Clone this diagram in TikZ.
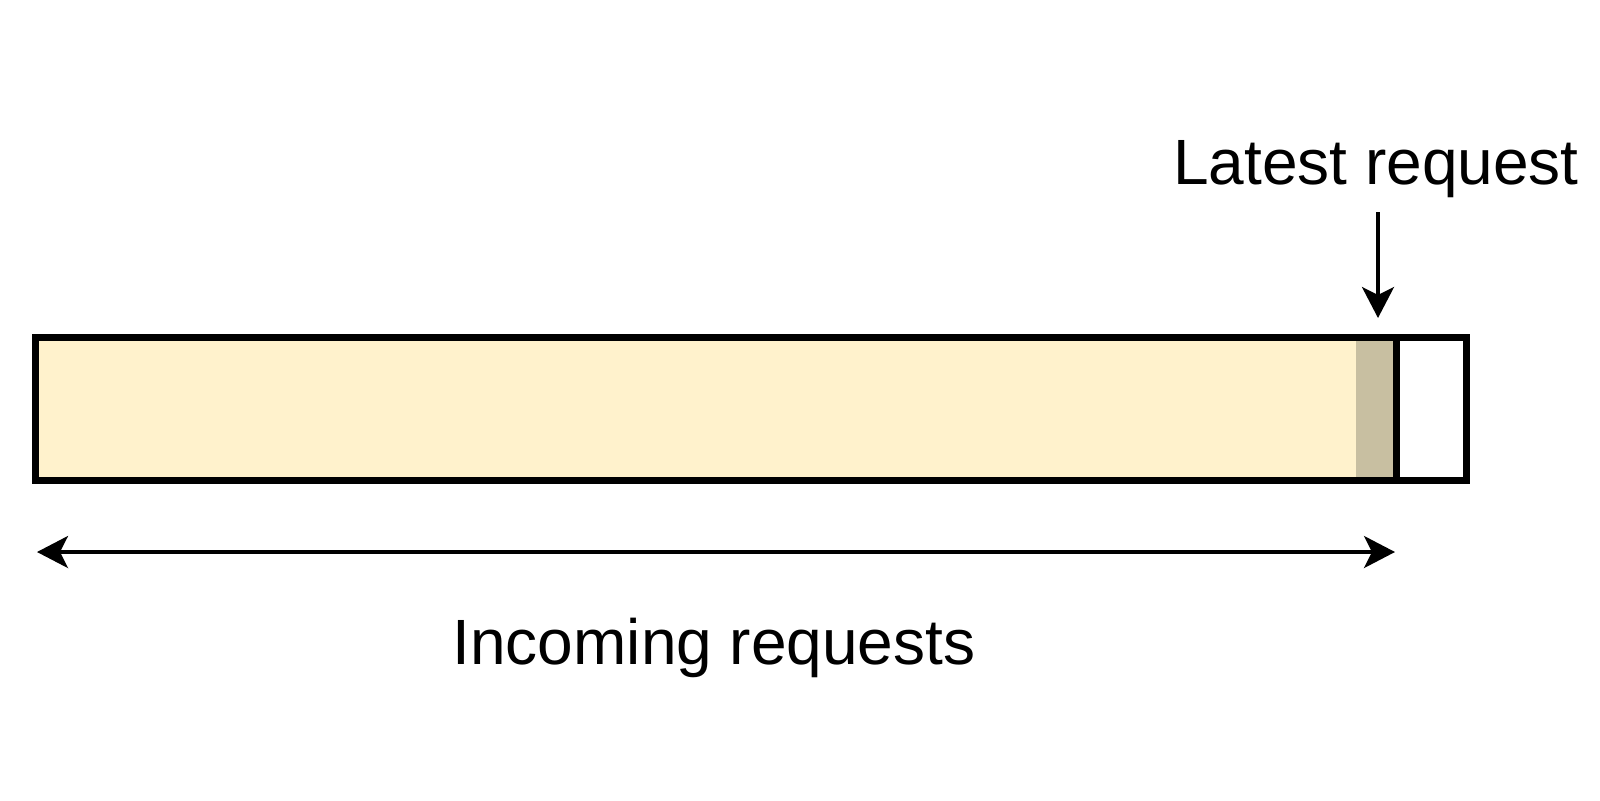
\documentclass[tikz,border=0pt]{standalone}
\usepackage{fontspec}
\setmainfont{Liberation Sans}
\usetikzlibrary{arrows.meta}
\definecolor{barfill}{RGB}{255,242,204}
\definecolor{latestfill}{RGB}{200,191,161}
\tikzset{
  border/.style={draw=black, line width=3.5pt},
  conn/.style={draw=black, line width=1.8pt, -{Stealth[length=15.5pt, width=16pt, inset=4pt]}},
  dconn/.style={draw=black, line width=1.8pt, {Stealth[length=15.5pt, width=16pt, inset=4pt]}-{Stealth[length=15.5pt, width=16pt, inset=4pt]}},
  lbl/.style={font=\fontsize{32pt}{38pt}\selectfont, anchor=base, inner sep=0pt}
}
\begin{document}
\begin{tikzpicture}[x=0.5pt, y=-0.5pt]
\useasboundingbox (0,0) rectangle (1600,800);
% bar
\fill[barfill] (35.5,337) rectangle (1396,480);
\fill[latestfill] (1356,337) rectangle (1396,480);
\node[border, fill=none, minimum width=715.5pt, minimum height=71.5pt, inner sep=0pt, outer sep=0pt, anchor=north west] (bar) at (35.5,337) {};
\draw[border] (1396,337) -- (1396,480);
% labels
\node[lbl] (latest) at (1376,184) {Latest request};
\node[lbl] (incoming) at (714,664) {Incoming requests};
% arrows
\coordinate (ltop) at (1378,212);
\coordinate (lend) at (1378,318);
\draw[conn] (ltop) -- (lend);
\coordinate (aL) at (37,552);
\coordinate (aR) at (1395,552);
\draw[dconn] (aL) -- (aR);
\end{tikzpicture}
\end{document}
